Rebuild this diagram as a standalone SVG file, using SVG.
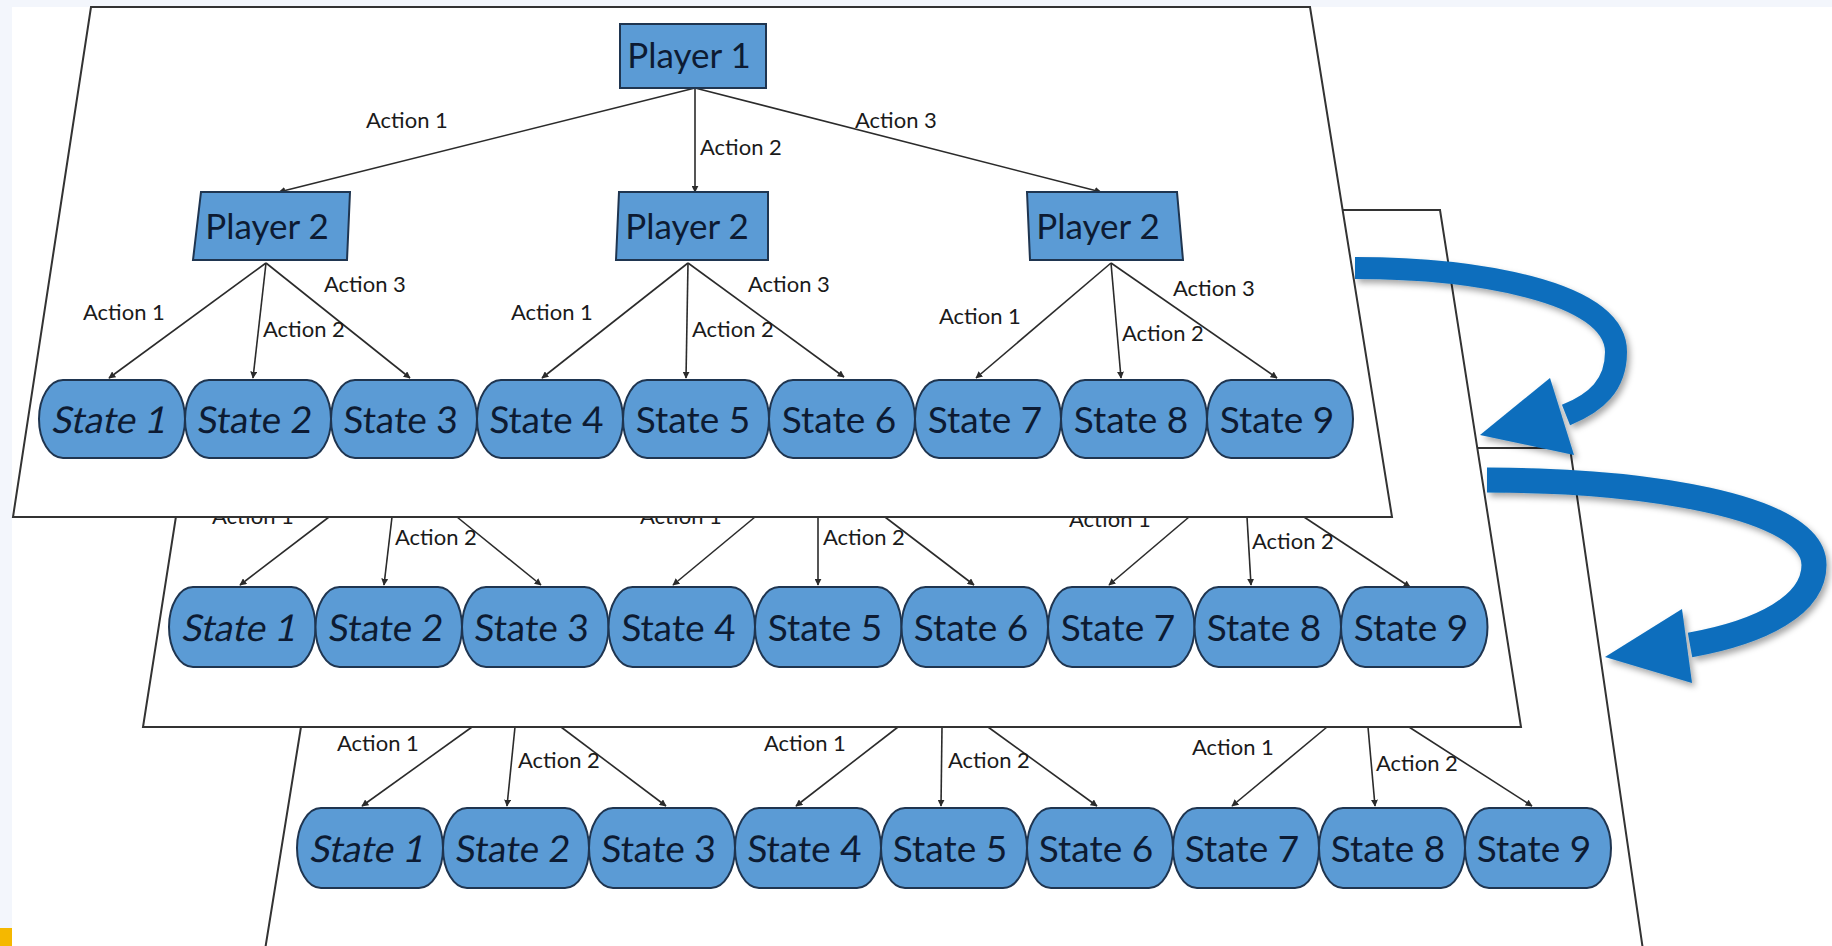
<svg xmlns="http://www.w3.org/2000/svg" width="1832" height="946" viewBox="0 0 1832 946">
<defs>
<style>
.panel{fill:#ffffff;stroke:#333333;stroke-width:2}
.box{fill:#5b9bd5;stroke:#1f3550;stroke-width:2}
.st{fill:#5b9bd5;stroke:#1f3550;stroke-width:2}
.pt{font-family:Lato,"Open Sans",sans-serif;font-size:35px;fill:#0d1b33;text-anchor:middle}
.sx{font-family:Lato,"Open Sans",sans-serif;font-size:37px;fill:#0d1b33;text-anchor:middle}
.al{font-family:Lato,"Open Sans",sans-serif;font-size:22px;fill:#1a1a1a}
.cn{stroke:#2b2b2b;stroke-width:1.6;fill:none;marker-end:url(#ah)}
.arr{fill:none;stroke:#0a6ebd}
</style>
<marker id="ah" viewBox="0 0 10 10" refX="9" refY="5" markerWidth="7" markerHeight="7" markerUnits="userSpaceOnUse" orient="auto">
<path d="M0,0 L10,5 L0,10 z" fill="#2b2b2b"/>
</marker>
<filter id="sh" x="-20%" y="-20%" width="140%" height="140%">
<feDropShadow dx="3" dy="4" stdDeviation="3" flood-color="#000000" flood-opacity="0.35"/>
</filter>
</defs>
<rect x="0" y="0" width="1832" height="946" fill="#ffffff"/>
<rect x="0" y="0" width="1832" height="7" fill="#f3f6fc"/>
<rect x="0" y="0" width="12" height="946" fill="#f3f6fc"/>
<rect x="0" y="928" width="12" height="18" fill="#f5b800"/>

<!-- Panel 3 (back) -->
<g id="panel3">
<polygon class="panel" points="346,448 1570,448 1643,950 265,950"/>
<g id="p3-connectors">
<line class="cn" x1="472" y1="727" x2="362" y2="806"/>
<line class="cn" x1="515" y1="727" x2="507" y2="806"/>
<line class="cn" x1="561" y1="727" x2="666" y2="806"/>
<line class="cn" x1="898" y1="727" x2="796" y2="806"/>
<line class="cn" x1="942" y1="727" x2="941" y2="806"/>
<line class="cn" x1="988" y1="727" x2="1097" y2="806"/>
<line class="cn" x1="1327" y1="727" x2="1232" y2="806"/>
<line class="cn" x1="1368" y1="727" x2="1375" y2="806"/>
<line class="cn" x1="1409" y1="727" x2="1532" y2="806"/>
<text class="al" x="337" y="751">Action 1</text>
<text class="al" x="518" y="768">Action 2</text>
<text class="al" x="764" y="751">Action 1</text>
<text class="al" x="948" y="768">Action 2</text>
<text class="al" x="1192" y="755">Action 1</text>
<text class="al" x="1376" y="771">Action 2</text>
</g>
<g id="p3-s1"><rect class="st" x="297" y="808" width="146" height="80" rx="24" ry="40"/><text class="sx" transform="translate(366,862) skewX(-12)">State 1</text></g>
<g id="p3-s2"><rect class="st" x="443" y="808" width="146" height="80" rx="24" ry="40"/><text class="sx" transform="translate(512,862) skewX(-5)">State 2</text></g>
<g id="p3-s3"><rect class="st" x="589" y="808" width="146" height="80" rx="24" ry="40"/><text class="sx" transform="translate(658,862) skewX(-3)">State 3</text></g>
<g id="p3-s4"><rect class="st" x="735" y="808" width="146" height="80" rx="24" ry="40"/><text class="sx" transform="translate(804,862) skewX(-2)">State 4</text></g>
<g id="p3-s5"><rect class="st" x="881" y="808" width="146" height="80" rx="24" ry="40"/><text class="sx" x="950" y="862">State 5</text></g>
<g id="p3-s6"><rect class="st" x="1027" y="808" width="146" height="80" rx="24" ry="40"/><text class="sx" x="1096" y="862">State 6</text></g>
<g id="p3-s7"><rect class="st" x="1173" y="808" width="146" height="80" rx="24" ry="40"/><text class="sx" x="1242" y="862">State 7</text></g>
<g id="p3-s8"><rect class="st" x="1319" y="808" width="146" height="80" rx="24" ry="40"/><text class="sx" x="1388" y="862">State 8</text></g>
<g id="p3-s9"><rect class="st" x="1465" y="808" width="146" height="80" rx="24" ry="40"/><text class="sx" x="1534" y="862">State 9</text></g>
</g>

<!-- Panel 2 (middle) -->
<g id="panel2">
<polygon class="panel" points="224,210 1440,210 1521,727 143,727"/>
<g id="p2-connectors">
<line class="cn" x1="329" y1="517" x2="240" y2="585"/>
<line class="cn" x1="392" y1="517" x2="384" y2="585"/>
<line class="cn" x1="457" y1="517" x2="541" y2="585"/>
<line class="cn" x1="755" y1="517" x2="673" y2="585"/>
<line class="cn" x1="818" y1="517" x2="818" y2="585"/>
<line class="cn" x1="885" y1="517" x2="974" y2="585"/>
<line class="cn" x1="1189" y1="517" x2="1109" y2="585"/>
<line class="cn" x1="1247" y1="517" x2="1251" y2="585"/>
<line class="cn" x1="1304" y1="517" x2="1410" y2="587"/>
<text class="al" x="212" y="524">Action 1</text>
<text class="al" x="395" y="545">Action 2</text>
<text class="al" x="640" y="524">Action 1</text>
<text class="al" x="823" y="545">Action 2</text>
<text class="al" x="1069" y="527">Action 1</text>
<text class="al" x="1252" y="549">Action 2</text>
</g>
<g id="p2-s1"><rect class="st" x="169" y="587" width="146.5" height="80" rx="24" ry="40"/><text class="sx" transform="translate(238,641) skewX(-12)">State 1</text></g>
<g id="p2-s2"><rect class="st" x="315.5" y="587" width="146.5" height="80" rx="24" ry="40"/><text class="sx" transform="translate(385,641) skewX(-5)">State 2</text></g>
<g id="p2-s3"><rect class="st" x="462" y="587" width="146.5" height="80" rx="24" ry="40"/><text class="sx" transform="translate(531,641) skewX(-3)">State 3</text></g>
<g id="p2-s4"><rect class="st" x="608.5" y="587" width="146.5" height="80" rx="24" ry="40"/><text class="sx" transform="translate(678,641) skewX(-2)">State 4</text></g>
<g id="p2-s5"><rect class="st" x="755" y="587" width="146.5" height="80" rx="24" ry="40"/><text class="sx" x="825" y="641">State 5</text></g>
<g id="p2-s6"><rect class="st" x="901.5" y="587" width="146.5" height="80" rx="24" ry="40"/><text class="sx" x="971" y="641">State 6</text></g>
<g id="p2-s7"><rect class="st" x="1048" y="587" width="146.5" height="80" rx="24" ry="40"/><text class="sx" x="1118" y="641">State 7</text></g>
<g id="p2-s8"><rect class="st" x="1194.5" y="587" width="146.5" height="80" rx="24" ry="40"/><text class="sx" x="1264" y="641">State 8</text></g>
<g id="p2-s9"><rect class="st" x="1341" y="587" width="146.5" height="80" rx="24" ry="40"/><text class="sx" x="1411" y="641">State 9</text></g>
</g>

<!-- Panel 1 (front) -->
<g id="panel1">
<polygon class="panel" points="91,7 1310,7 1392,517 13,517"/>
<g id="p1-connectors">
<line class="cn" x1="695" y1="88" x2="279" y2="192"/>
<line class="cn" x1="695" y1="88" x2="695" y2="192"/>
<line class="cn" x1="695" y1="88" x2="1101" y2="192"/>
<line class="cn" x1="266" y1="263" x2="109" y2="378"/>
<line class="cn" x1="266" y1="263" x2="253" y2="378"/>
<line class="cn" x1="266" y1="263" x2="410" y2="378"/>
<line class="cn" x1="688" y1="263" x2="542" y2="378"/>
<line class="cn" x1="688" y1="263" x2="686" y2="378"/>
<line class="cn" x1="688" y1="263" x2="844" y2="377"/>
<line class="cn" x1="1111" y1="263" x2="976" y2="378"/>
<line class="cn" x1="1111" y1="263" x2="1121" y2="378"/>
<line class="cn" x1="1111" y1="263" x2="1277" y2="378"/>
<text class="al" x="366" y="128">Action 1</text>
<text class="al" x="700" y="155">Action 2</text>
<text class="al" x="855" y="128">Action 3</text>
<text class="al" x="83" y="320">Action 1</text>
<text class="al" x="263" y="337">Action 2</text>
<text class="al" x="324" y="292">Action 3</text>
<text class="al" x="511" y="320">Action 1</text>
<text class="al" x="692" y="337">Action 2</text>
<text class="al" x="748" y="292">Action 3</text>
<text class="al" x="939" y="324">Action 1</text>
<text class="al" x="1122" y="341">Action 2</text>
<text class="al" x="1173" y="296">Action 3</text>
</g>
<g id="p1-player1"><polygon class="box" points="620,24 766,24 766,88 620,88"/><text class="pt" x="689" y="68">Player 1</text></g>
<g id="p1-player2a"><polygon class="box" points="201,192 350,192 347,260 193,260"/><text class="pt" x="267" y="239">Player 2</text></g>
<g id="p1-player2b"><polygon class="box" points="619,192 768,192 768,260 616,260"/><text class="pt" x="687" y="239">Player 2</text></g>
<g id="p1-player2c"><polygon class="box" points="1027,192 1177,192 1183,260 1030,260"/><text class="pt" x="1098" y="239">Player 2</text></g>
<g id="p1-s1"><rect class="st" x="39" y="380" width="146" height="78" rx="24" ry="39"/><text class="sx" transform="translate(108,433) skewX(-12)">State 1</text></g>
<g id="p1-s2"><rect class="st" x="185" y="380" width="146" height="78" rx="24" ry="39"/><text class="sx" transform="translate(254,433) skewX(-5)">State 2</text></g>
<g id="p1-s3"><rect class="st" x="331" y="380" width="146" height="78" rx="24" ry="39"/><text class="sx" transform="translate(400,433) skewX(-3)">State 3</text></g>
<g id="p1-s4"><rect class="st" x="477" y="380" width="146" height="78" rx="24" ry="39"/><text class="sx" transform="translate(546,433) skewX(-2)">State 4</text></g>
<g id="p1-s5"><rect class="st" x="623" y="380" width="146" height="78" rx="24" ry="39"/><text class="sx" x="693" y="433">State 5</text></g>
<g id="p1-s6"><rect class="st" x="769" y="380" width="146" height="78" rx="24" ry="39"/><text class="sx" x="839" y="433">State 6</text></g>
<g id="p1-s7"><rect class="st" x="915" y="380" width="146" height="78" rx="24" ry="39"/><text class="sx" x="985" y="433">State 7</text></g>
<g id="p1-s8"><rect class="st" x="1061" y="380" width="146" height="78" rx="24" ry="39"/><text class="sx" x="1131" y="433">State 8</text></g>
<g id="p1-s9"><rect class="st" x="1207" y="380" width="146" height="78" rx="24" ry="39"/><text class="sx" x="1277" y="433">State 9</text></g>
</g>

<!-- Curved blue arrows -->
<g id="arrows" filter="url(#sh)">
<g id="arrow1">
<path class="arr" stroke-width="22" d="M1355,268 C1470,268 1616,290 1616,352 C1616,385 1596,403 1566,415"/>
<polygon fill="#0a6ebd" points="1480,435 1550,378 1574,455"/>
</g>
<g id="arrow2">
<path class="arr" stroke-width="25" d="M1487,480 C1640,480 1814,505 1814,565 C1814,605 1762,632 1690,645"/>
<polygon fill="#0a6ebd" points="1605,657 1682,609 1692,683"/>
</g>
</g>
</svg>
